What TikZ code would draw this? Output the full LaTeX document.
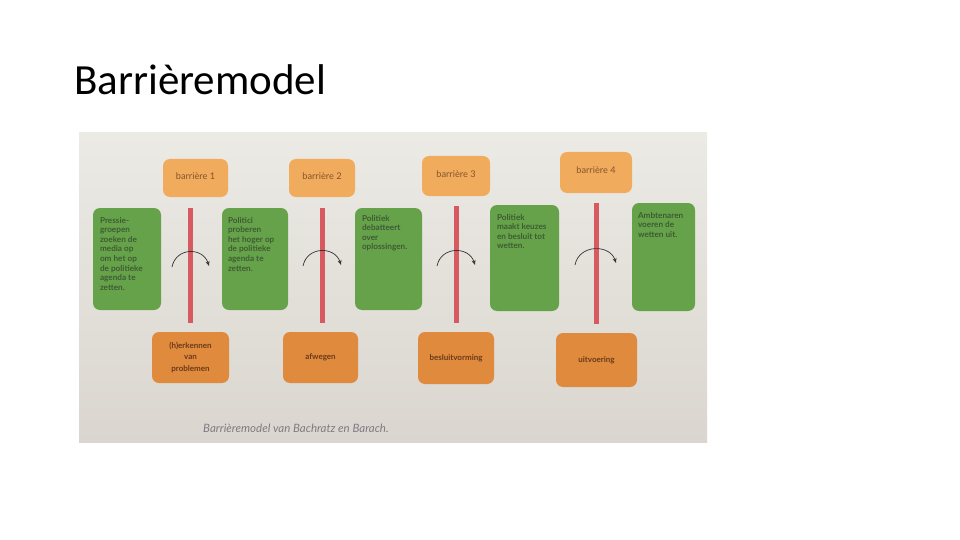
\documentclass[tikz,border=0pt]{standalone}
\usepackage{fontspec}
\setmainfont{Lato}
\newfontfamily\titlefont{Carlito}
\usetikzlibrary{arrows.meta}
\definecolor{photobgtop}{HTML}{ECEAE5}
\definecolor{photobgbot}{HTML}{DAD6CF}
\definecolor{toporange}{HTML}{F0AC5C}
\definecolor{botorange}{HTML}{DF8A3C}
\definecolor{boxgreen}{HTML}{66A24A}
\definecolor{barred}{HTML}{D65A60}
\definecolor{gtext}{HTML}{3E5C33}
\definecolor{otext}{HTML}{85532E}
\definecolor{btext}{HTML}{6A3A1C}
\definecolor{captiongray}{HTML}{7C7B82}
\tikzset{
  topbox/.style={fill=toporange, rounded corners=7pt, inner sep=0pt, text=otext,
    font=\fontsize{9.2}{10}\selectfont},
  botbox/.style={fill=botorange, rounded corners=7pt, inner sep=0pt, text=btext,
    font=\bfseries\fontsize{8}{11.5}\selectfont, align=center},
  greenbox/.style={fill=boxgreen, rounded corners=7pt, inner sep=0pt},
  gtextnode/.style={anchor=north west, inner sep=0pt, text=gtext, align=left,
    font=\bfseries\fontsize{8.2}{9.6}\selectfont},
  barnode/.style={fill=barred, inner sep=0pt, minimum width=5pt},
  turnarrow/.style={draw=black!80, line width=0.7pt, -{Stealth[length=5pt,width=4pt]}}
}
\begin{document}
\begin{tikzpicture}[x=1pt,y=-1pt]
\useasboundingbox (0,0) rectangle (960,540);
\fill[white] (0,0) rectangle (960,540);
\node[anchor=base west, inner sep=0pt, font=\titlefont\fontsize{43}{50}\selectfont] (title) at (74,95) {Barrièremodel};
% photo background
\shade[top color=photobgtop, bottom color=photobgbot] (79,133) rectangle (707,442);
% top barrier boxes
\node[topbox, minimum width=65pt, minimum height=38pt] (t1) at (195.5,178) {\raisebox{4pt}{barrière 1}};
\node[topbox, minimum width=66pt, minimum height=38pt] (t2) at (322,178) {\raisebox{4pt}{barrière 2}};
\node[topbox, minimum width=68pt, minimum height=40pt] (t3) at (456,176) {\raisebox{4pt}{barrière 3}};
\node[topbox, minimum width=72pt, minimum height=41pt] (t4) at (596,172.5) {\raisebox{4pt}{barrière 4}};
% green boxes
\node[greenbox, minimum width=68pt, minimum height=102pt] (g1) at (127,259) {};
\node[greenbox, minimum width=66pt, minimum height=102pt] (g2) at (255,259) {};
\node[greenbox, minimum width=67pt, minimum height=102pt] (g3) at (388.5,259) {};
\node[greenbox, minimum width=69pt, minimum height=106pt] (g4) at (524.5,258) {};
\node[greenbox, minimum width=63pt, minimum height=108pt] (g5) at (663.5,257) {};
\node[gtextnode] (g1t) at ([shift={(7,9)}]g1.north west) {Pressie-\\groepen\\zoeken de\\media op\\om het op\\de politieke\\agenda te\\zetten.};
\node[gtextnode] (g2t) at ([shift={(6,9)}]g2.north west) {Politici\\proberen\\het hoger op\\de politieke\\agenda te\\zetten.};
\node[gtextnode] (g3t) at ([shift={(7,7)}]g3.north west) {Politiek\\debatteert\\over\\oplossingen.};
\node[gtextnode] (g4t) at ([shift={(7,9)}]g4.north west) {Politiek\\maakt keuzes\\en besluit tot\\wetten.};
\node[gtextnode] (g5t) at ([shift={(6,9)}]g5.north west) {Ambtenaren\\voeren de\\wetten uit.};
% red barrier bars
\node[barnode, minimum height=115pt] (r1) at (190.5,265.5) {};
\node[barnode, minimum height=115pt] (r2) at (322.5,265.5) {};
\node[barnode, minimum height=117pt] (r3) at (456.5,264.5) {};
\node[barnode, minimum height=121pt] (r4) at (596.5,263.5) {};
% turning arrows
\coordinate (a1s) at (172,267); \coordinate (a1e) at (209,266);
\coordinate (a2s) at (303,266); \coordinate (a2e) at (341,265);
\coordinate (a3s) at (437,266); \coordinate (a3e) at (475,265);
\coordinate (a4s) at (575,265); \coordinate (a4e) at (616,263);
\draw[turnarrow] (a1s) .. controls +(4,-20) and +(-6,-19) .. (a1e);
\draw[turnarrow] (a2s) .. controls +(4,-20) and +(-6,-19) .. (a2e);
\draw[turnarrow] (a3s) .. controls +(4,-20) and +(-6,-19) .. (a3e);
\draw[turnarrow] (a4s) .. controls +(4,-21) and +(-6,-19) .. (a4e);
% bottom phase boxes
\node[botbox, minimum width=77pt, minimum height=51pt] (b1) at (190.5,357.5) {(h)erkennen\\van\\problemen};
\node[botbox, minimum width=75pt, minimum height=51pt] (b2) at (320.5,357.5) {afwegen};
\node[botbox, minimum width=76pt, minimum height=52pt] (b3) at (456,358) {besluitvorming};
\node[botbox, minimum width=81pt, minimum height=54pt] (b4) at (596.5,360) {uitvoering};
% caption
\node[anchor=base west, inner sep=0pt, text=captiongray, font=\itshape\fontsize{11.5}{13}\selectfont] (cap) at (203,432) {Barrièremodel van Bachratz en Barach.};
\end{tikzpicture}
\end{document}
